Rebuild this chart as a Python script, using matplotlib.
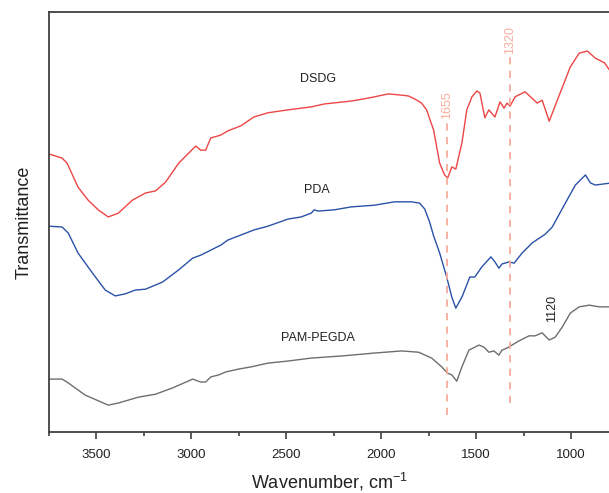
import numpy as np
import matplotlib
matplotlib.use("Agg")
import matplotlib.pyplot as plt
from matplotlib.ticker import MultipleLocator

plt.rcParams['font.family'] = ['Liberation Sans', 'DejaVu Sans']
plt.rcParams['mathtext.fontset'] = 'custom'
plt.rcParams['mathtext.rm'] = 'Liberation Sans'

# FTIR spectra (offset, arbitrary transmittance units)
wn_dsdg = [3750, 3681, 3655, 3597, 3544, 3491, 3438, 3385, 3311, 3242, 3189, 3136, 3067,
           2977, 2951, 2925, 2898, 2845, 2808, 2739, 2671, 2597, 2491, 2369, 2300, 2157,
           2068, 1962, 1893, 1856, 1824, 1787, 1761, 1724, 1692, 1666, 1650, 1628, 1607,
           1575, 1549, 1522, 1496, 1480, 1454, 1433, 1401, 1374, 1353, 1337, 1321, 1295,
           1242, 1178, 1152, 1115, 1062, 1004, 957, 914, 872, 824, 787]
t_dsdg = [66.2, 65.2, 64.0, 58.3, 55.2, 52.9, 51.2, 52.1, 55.2, 56.9, 57.4, 59.5, 64.0,
          68.1, 67.1, 67.1, 70.0, 70.7, 71.7, 72.9, 75.0, 76.0, 76.7, 77.4, 78.1, 78.8,
          79.5, 80.5, 80.2, 80.0, 79.3, 78.3, 76.7, 71.9, 64.0, 61.2, 60.5, 63.1, 62.6,
          68.8, 76.7, 79.8, 81.2, 80.7, 74.8, 76.7, 75.0, 78.6, 77.1, 78.3, 77.6, 79.8,
          81.0, 78.3, 79.0, 74.0, 80.2, 86.9, 90.2, 90.7, 89.0, 87.9, 85.5]

wn_pda = [3750, 3681, 3649, 3597, 3522, 3454, 3401, 3348, 3295, 3242, 3152, 3067, 2993,
          2951, 2898, 2845, 2808, 2739, 2671, 2597, 2491, 2422, 2369, 2353, 2332, 2247,
          2157, 2036, 1930, 1840, 1798, 1771, 1745, 1724, 1692, 1655, 1628, 1607, 1575,
          1533, 1507, 1470, 1422, 1401, 1380, 1364, 1327, 1300, 1258, 1205, 1136, 1099,
          1030, 977, 924, 898, 872, 787]
t_pda = [49.0, 48.8, 47.4, 42.6, 37.9, 33.8, 32.4, 32.9, 33.8, 34.0, 35.7, 38.6, 41.4,
         42.1, 43.3, 44.5, 45.7, 46.9, 48.1, 49.0, 50.7, 51.2, 52.1, 52.9, 52.6, 52.9,
         53.6, 54.0, 54.8, 54.8, 54.5, 53.1, 50.0, 46.7, 42.6, 36.9, 32.1, 29.5, 32.1,
         36.9, 36.9, 39.3, 41.7, 40.5, 39.0, 40.0, 40.5, 40.2, 42.6, 45.0, 47.1, 48.8,
         54.5, 58.8, 61.2, 59.3, 58.8, 59.3]

wn_pam = [3750, 3681, 3649, 3560, 3438, 3385, 3279, 3189, 3099, 2993, 2951, 2925, 2898,
          2856, 2819, 2750, 2686, 2597, 2491, 2369, 2210, 2036, 1893, 1803, 1734, 1681,
          1650, 1628, 1602, 1575, 1538, 1485, 1459, 1433, 1406, 1380, 1364, 1337, 1311,
          1274, 1221, 1189, 1152, 1115, 1083, 1046, 1004, 957, 904, 851, 787]
t_pam = [12.6, 12.6, 11.7, 8.8, 6.4, 6.9, 8.3, 9.0, 10.5, 12.6, 11.9, 11.9, 13.1,
         13.6, 14.3, 15.0, 15.5, 16.4, 16.9, 17.6, 18.1, 18.8, 19.3, 19.0, 17.6, 15.5,
         14.0, 13.6, 12.1, 15.5, 19.5, 20.7, 20.2, 19.0, 19.3, 18.3, 19.5, 20.0, 20.7,
         21.7, 22.9, 22.9, 23.6, 21.9, 22.6, 25.0, 28.3, 29.8, 30.2, 29.8, 29.8]

peaks = [1655, 1320]
peak_tops = [73.8, 89.3]
peak_bottoms = [4.0, 6.9]

fig = plt.figure(figsize=(6.09, 4.93), dpi=100)
ax = fig.add_axes([0.0805, 0.1237, 0.9195, 0.852])

ax.plot(wn_dsdg, t_dsdg, color='#ee4545', lw=1.0)
ax.plot(wn_pda, t_pda, color='#2a52a8', lw=1.0)
ax.plot(wn_pam, t_pam, color='#6e6e6e', lw=1.0)

# marker lines for the characteristic bands
dash_col = '#f7ad9c'
for wn, top, bot in zip(peaks, peak_tops, peak_bottoms):
    ax.plot([wn, wn], [bot, top], color=dash_col, lw=1.3, ls=(0, (4, 3.5)))
ax.text(1655, 77.9, '1655', color=dash_col, rotation=90, ha='center', va='center', fontsize=9)
ax.text(1320, 93.3, '1320', color=dash_col, rotation=90, ha='center', va='center', fontsize=9)
ax.text(1100, 29.5, '1120', color='#222222', rotation=90, ha='center', va='center', fontsize=9)

ax.text(2332, 84.0, 'DSDG', ha='center', va='center', fontsize=9, color='#222222')
ax.text(2337, 57.6, 'PDA', ha='center', va='center', fontsize=9, color='#222222')
ax.text(2332, 22.4, 'PAM-PEGDA', ha='center', va='center', fontsize=9, color='#222222')

ax.set_xlim(3750, 800)
ax.set_ylim(0, 100)
ax.xaxis.set_major_locator(MultipleLocator(500))
ax.xaxis.set_minor_locator(MultipleLocator(250))
ax.set_yticks([])
ax.tick_params(axis='x', which='major', length=5, width=1.2, color='#404040',
               labelsize=9.5, labelcolor='#222222', pad=7)
ax.tick_params(axis='x', which='minor', length=3, width=1.2, color='#404040')
for side in ['left', 'bottom', 'top']:
    ax.spines[side].set_color('#404040')
    ax.spines[side].set_linewidth(1.3)
ax.spines['right'].set_visible(False)

ax.set_xlabel('Wavenumber, cm$^{-1}$', fontsize=13, color='#222222', labelpad=7)
ax.set_ylabel('Transmittance', fontsize=13, color='#222222', labelpad=12)

fig.savefig('out.png', dpi=100)
